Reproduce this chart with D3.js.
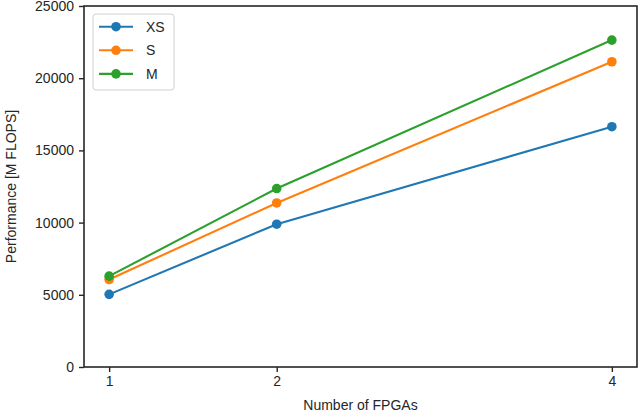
<!DOCTYPE html>
<html>
<head>
<meta charset="utf-8">
<script src="https://cdn.jsdelivr.net/npm/d3@7"></script>
<style>
  html, body { margin: 0; padding: 0; background: #fff; }
  svg { display: block; }
  text { font-family: "Liberation Sans", Arial, sans-serif; }
</style>
</head>
<body>
<script>
// ---- data ----
const fpgas = [1, 2, 4];
const seriesNames = ["XS", "S", "M"];
const xsValues = [5030, 9890, 16640];
const sValues = [6060, 11360, 21140];
const mValues = [6290, 12360, 22640];
const yTicks = [0, 5000, 10000, 15000, 20000, 25000];
const xTicks = [1, 2, 4];
const colors = ["#1f77b4", "#ff7f0e", "#2ca02c"];

const series = [
  { name: seriesNames[0], values: xsValues, color: colors[0] },
  { name: seriesNames[1], values: sValues, color: colors[1] },
  { name: seriesNames[2], values: mValues, color: colors[2] }
];

const W = 642, H = 412;
const margin = { left: 84, right: 5, top: 6, bottom: 45 };
const textColor = "#262626";

const svg = d3.select("body").append("svg").attr("width", W).attr("height", H);

const x = d3.scaleLinear().domain([0.85, 4.15]).range([margin.left, W - margin.right]);
const y = d3.scaleLinear().domain([0, 25000]).range([H - margin.bottom, margin.top]);

// lines & markers
const line = d3.line().x((d, i) => x(fpgas[i])).y(d => y(d));
series.forEach(s => {
  svg.append("path").datum(s.values)
    .attr("d", line).attr("fill", "none")
    .attr("stroke", s.color).attr("stroke-width", 2.1)
    .attr("stroke-linejoin", "round").attr("stroke-linecap", "round");
  svg.selectAll(null).data(s.values).enter().append("circle")
    .attr("cx", (d, i) => x(fpgas[i])).attr("cy", d => y(d))
    .attr("r", 4.8).attr("fill", s.color);
});

// axes
const xAxis = d3.axisBottom(x).tickValues(xTicks).tickFormat(d3.format("d")).tickSize(5).tickPadding(4);
const yAxis = d3.axisLeft(y).tickValues(yTicks).tickFormat(d3.format("d")).tickSize(5).tickPadding(5);

const gx = svg.append("g").attr("transform", `translate(0,${H - margin.bottom})`).call(xAxis);
const gy = svg.append("g").attr("transform", `translate(${margin.left},0)`).call(yAxis);
[gx, gy].forEach(g => {
  g.select(".domain").remove();
  g.selectAll(".tick line").attr("stroke", textColor).attr("stroke-width", 1.4);
  g.selectAll(".tick text").attr("fill", textColor).style("font-size", "14px")
    .style("font-family", "'Liberation Sans', Arial, sans-serif");
});

// frame (spines)
svg.append("rect")
  .attr("x", margin.left).attr("y", margin.top)
  .attr("width", W - margin.right - margin.left)
  .attr("height", H - margin.bottom - margin.top)
  .attr("fill", "none").attr("stroke", textColor).attr("stroke-width", 1.6);

// axis labels
svg.append("text")
  .attr("x", (margin.left + W - margin.right) / 2).attr("y", 410)
  .attr("text-anchor", "middle").attr("fill", textColor).style("font-size", "14px")
  .text("Number of FPGAs");
svg.append("text")
  .attr("transform", `translate(16,${(margin.top + H - margin.bottom) / 2}) rotate(-90)`)
  .attr("text-anchor", "middle").attr("fill", textColor).style("font-size", "14px")
  .text("Performance [M FLOPS]");

// legend
const lg = svg.append("g");
lg.append("rect").attr("x", 93).attr("y", 14).attr("width", 81).attr("height", 76)
  .attr("rx", 3).attr("fill", "#fff").attr("fill-opacity", 0.8)
  .attr("stroke", "#d0d0d0").attr("stroke-width", 1);
series.forEach((s, i) => {
  const cy = 26.7 + i * 23.6;
  lg.append("line").attr("x1", 99).attr("x2", 133).attr("y1", cy).attr("y2", cy)
    .attr("stroke", s.color).attr("stroke-width", 2.1);
  lg.append("circle").attr("cx", 116).attr("cy", cy).attr("r", 4.8).attr("fill", s.color);
  lg.append("text").attr("x", 146).attr("y", cy).attr("dy", "0.35em")
    .attr("fill", textColor).style("font-size", "14px").text(s.name);
});
</script>
</body>
</html>
